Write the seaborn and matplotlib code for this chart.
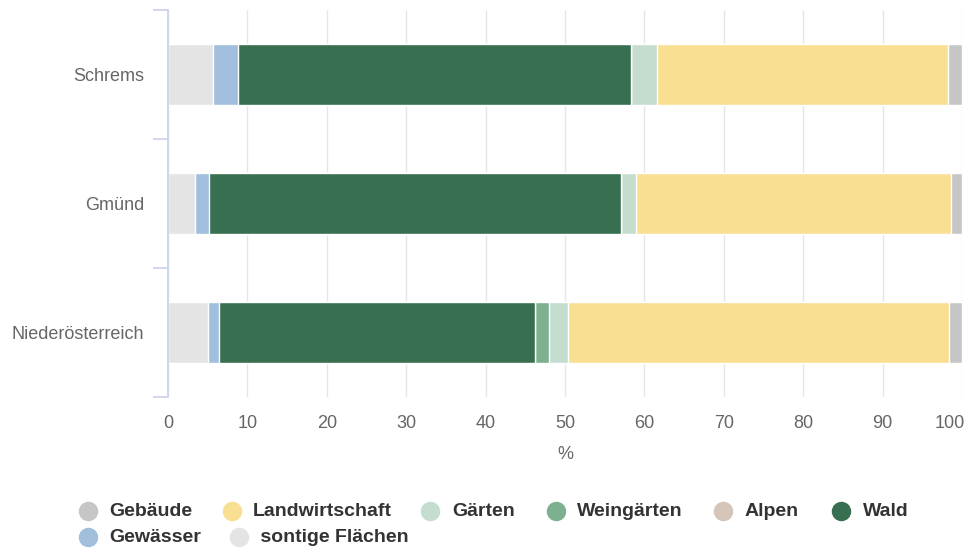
import matplotlib
matplotlib.use("Agg")
import matplotlib.pyplot as plt
from matplotlib.lines import Line2D
import matplotlib.transforms as mtrans
import seaborn as sns
import pandas as pd
import numpy as np

categories = ["Schrems", "Gmünd", "Niederösterreich"]
sontige = [5.7, 3.4, 5.0]
gewaesser = [3.1, 1.8, 1.4]
wald = [49.5, 51.9, 39.8]
alpen = [0.0, 0.0, 0.0]
weingaerten = [0.0, 0.0, 1.8]
gaerten = [3.3, 1.9, 2.4]
landwirtschaft = [36.6, 39.6, 48.0]
gebaeude = [1.8, 1.4, 1.6]

series_names = [" sontige Flächen", "Gewässer", "Wald", "Alpen", "Weingärten",
                "Gärten", "Landwirtschaft", "Gebäude"]
series_values = [sontige, gewaesser, wald, alpen, weingaerten, gaerten,
                 landwirtschaft, gebaeude]
colors = ["#e4e4e4", "#a1bedd", "#376f50", "#d5c5b9", "#7db08f", "#c4ddcf",
          "#f9df91", "#c6c6c6"]

sns.set_theme(style="white")
plt.rcParams["font.family"] = ["Liberation Sans", "DejaVu Sans"]

W, H = 978, 550
fig = plt.figure(figsize=(W / 100, H / 100), dpi=100)
ax = fig.add_axes([168 / W, 1 - 397 / H, (962 - 168) / W, (397 - 10) / H])

# stacked via cumulative overlay (largest cumulative first)
cum = np.cumsum(np.array(series_values), axis=0)
for i in range(len(series_names) - 1, -1, -1):
    df = pd.DataFrame({"cat": categories, "val": cum[i]})
    sns.barplot(data=df, x="val", y="cat", orient="h", color=colors[i],
                width=0.47, edgecolor="white", linewidth=1.0, saturation=1,
                ax=ax, zorder=2)

ax.set_xlim(0, 100)
ax.set_ylim(2.5, -0.5)
ax.set_xticks(np.arange(0, 101, 10))
ax.set_xticklabels([str(v) for v in range(0, 101, 10)])
ax.grid(axis="x", color="#e6e6e6", linewidth=1.0, zorder=0)
ax.grid(axis="y", visible=False)
ax.set_axisbelow(True)

for s in ["top", "right", "bottom"]:
    ax.spines[s].set_visible(False)
ax.spines["left"].set_color("#ccd6eb")
ax.spines["left"].set_linewidth(1.3)
ax.spines["left"].set_zorder(5)

ax.tick_params(axis="x", length=0, pad=13, labelsize=13, labelcolor="#666666")
ax.tick_params(axis="y", which="major", left=False, length=0, pad=17,
               labelsize=13, labelcolor="#666666")
ax.set_yticks([-0.5, 0.5, 1.5, 2.5], minor=True)
ax.tick_params(axis="y", which="minor", left=True, direction="out",
               length=11, width=1.3, color="#ccd6eb")
ax.set_xlabel("%", fontsize=13, color="#666666", labelpad=10)
ax.set_ylabel("")
# last tick label nudged left as in the reference
lbls = ax.get_xticklabels()
lbls[-1].set_horizontalalignment("right")
lbls[-1].set_transform(lbls[-1].get_transform() +
                       mtrans.ScaledTranslation(3 / 100, 0, fig.dpi_scale_trans))

# legend (Highcharts style, manual layout)
legend_items = [
    ("Gebäude", "#c6c6c6", 88, 109, 511),
    ("Landwirtschaft", "#f9df91", 232, 253, 511),
    ("Gärten", "#c4ddcf", 430, 452, 511),
    ("Weingärten", "#7db08f", 556, 577, 511),
    ("Alpen", "#d5c5b9", 723, 745, 511),
    ("Wald", "#376f50", 841, 863, 511),
    ("Gewässer", "#a1bedd", 88, 109, 537),
    (" sontige Flächen", "#e4e4e4", 239, 255, 537),
]
for label, col, mx, tx, py in legend_items:
    fig.add_artist(Line2D([mx / W], [1 - py / H], marker="o", markersize=13,
                          color=col, linestyle="none",
                          transform=fig.transFigure))
    fig.text(tx / W, 1 - py / H, label, fontsize=14, fontweight="bold",
             color="#333333", ha="left", va="center")

fig.savefig("out.png", dpi=100)
